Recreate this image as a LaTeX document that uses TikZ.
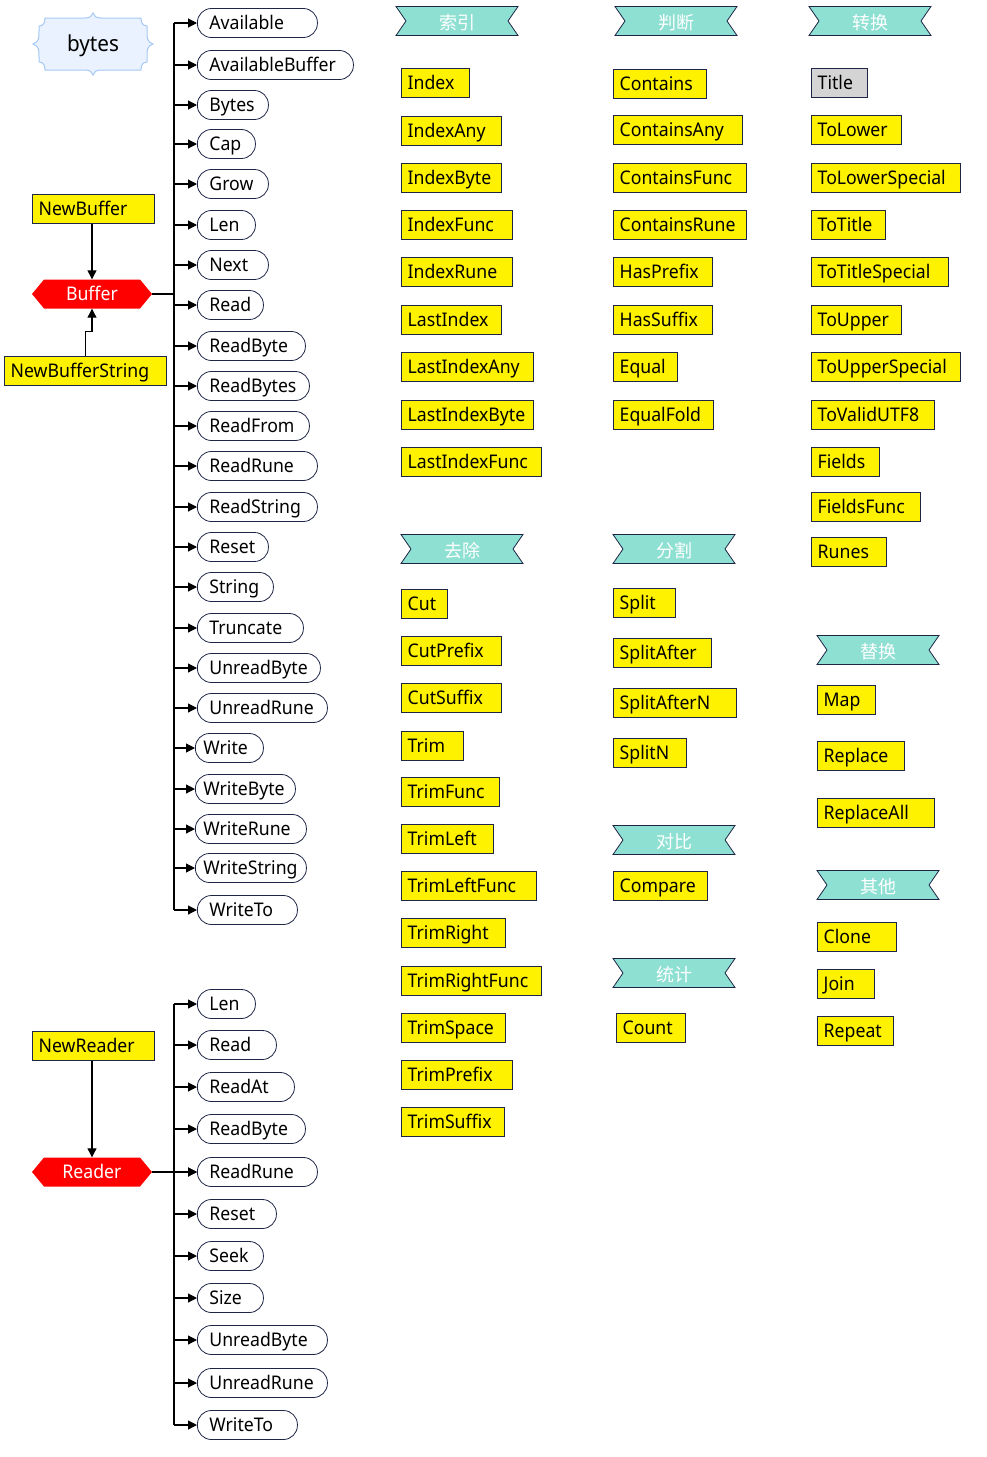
\documentclass[tikz,border=0pt]{standalone}
\usepackage{fontspec}
\setmainfont{Noto Sans}[FakeStretch=0.94]
\newfontfamily\cjk{Noto Sans CJK SC}
\usetikzlibrary{arrows.meta}

\definecolor{navy}{HTML}{1F2547}
\definecolor{ribbon}{HTML}{8EE0D2}
\definecolor{cloudfill}{HTML}{E9F2FE}
\definecolor{cloudline}{HTML}{A6C9F3}
\definecolor{titlegray}{HTML}{D4D4D4}

\newcommand\lbl{\fontsize{18.8}{21}\selectfont}

% rounded method label hanging off a type's bar
% #1 name, #2 left x, #3 y, #4 right x, #5 padding, #6 text, #7 bar x
\newcommand\pill[7]{%
  \pgfmathsetmacro\tw{#4-#2-2*#5}%
  \node[pill, inner xsep=#5pt, text width=\tw pt, anchor=west] (#1) at (#2,#3) {\mbox{#6}};
  \coordinate (#1-j) at (#7,#3);
  \draw[arr] (#1-j) -- (#1.west);
}
% plain function box
% [fill] #2 name, #3 left x, #4 y, #5 right x, #6 text
\newcommand\funcbox[6][yellow]{%
  \pgfmathsetmacro\tw{#5-#3-12}%
  \node[fbox, fill=#1, text width=\tw pt, anchor=west] (#2) at (#3,#4) {\mbox{#6}};
}
% category ribbon: #1 name, #2 cx, #3 cy, #4 text
\newcommand\ribbonlabel[4]{%
  \filldraw[fill=ribbon, draw=navy, line width=0.8pt, line join=miter]
    (#2-61,#3-14.5) -- (#2+61,#3-14.5) -- (#2+51,#3) -- (#2+61,#3+14.5)
    -- (#2-61,#3+14.5) -- (#2-51,#3) -- cycle;
  \node[ribtext] (#1) at (#2,#3+1.5) {#4};
}
% type hexagon: #1 name, #2 cx, #3 cy, #4 text
\newcommand\typehex[4]{%
  \fill[red] (#2-60,#3) -- (#2-48,#3-14.5) -- (#2+48,#3-14.5) -- (#2+60,#3)
    -- (#2+48,#3+14.5) -- (#2-48,#3+14.5) -- cycle;
  \node[hextext] (#1) at (#2,#3) {#4};
}

\begin{document}
\begin{tikzpicture}[x=1pt, y=-1pt,
  pill/.style={draw=navy, line width=0.8pt, rounded corners=14pt, fill=white,
    minimum height=29pt, inner ysep=0pt, align=left, font=\lbl,
    text height=14pt, text depth=2pt},
  fbox/.style={draw=navy, line width=1.4pt, minimum height=29pt, inner xsep=6pt,
    inner ysep=0pt, align=left, font=\lbl, text height=14pt, text depth=2pt},
  ribtext/.style={text=white, font=\cjk\fontsize{18}{20}\selectfont, inner sep=0pt},
  hextext/.style={text=white, font=\lbl, minimum width=120pt, minimum height=29pt,
    inner sep=0pt, text height=14pt, text depth=2pt},
  arr/.style={-{Triangle[length=9pt,width=9pt]}, line width=1.1pt, black},
  line/.style={line width=1.1pt, black},
]
\useasboundingbox (0,0) rectangle (986,1457);

% package name plaque
\filldraw[fill=cloudfill, draw=cloudline, line width=1pt]
  (33,44) .. controls (39,42) and (39,38) .. (39,31)
  -- (39,26) .. controls (43,26) and (45,23) .. (45,18)
  -- (85,18) .. controls (90,18) and (92,16) .. (93,13)
  .. controls (94,16) and (96,18) .. (101,18)
  -- (141,18) .. controls (141,23) and (143,26) .. (147,26)
  -- (147,31) .. controls (147,38) and (147,42) .. (153,44)
  .. controls (147,46) and (147,50) .. (147,57)
  -- (147,62) .. controls (143,62) and (141,65) .. (141,70)
  -- (101,70) .. controls (96,70) and (94,72) .. (93,75)
  .. controls (92,72) and (90,70) .. (85,70)
  -- (45,70) .. controls (45,65) and (43,62) .. (39,62)
  -- (39,57) .. controls (39,50) and (39,46) .. (33,44) -- cycle;
\node[font=\fontsize{22}{24}\selectfont] (bytes) at (93,46) {bytes};

% ---------- Buffer ----------
\typehex{Buffer}{92}{294}{Buffer}
\funcbox{NewBuffer}{32}{209}{154}{NewBuffer}
\funcbox{NewBufferString}{4}{371}{166}{NewBufferString}
\draw[arr] (NewBuffer.south -| Buffer.north) -- (Buffer.north);
\draw[arr] (NewBufferString.north) -- ++(0,-24) -| (Buffer.south);

\coordinate (bufTop) at (174,23);
\coordinate (bufBot) at (174,910);
\coordinate (bufJoin) at (174,294);
\draw[line] (bufTop) -- (bufBot);
\draw[line] (Buffer.east) -- (bufJoin);

\pill{b-Available}{197}{23}{317}{12}{Available}{174}
\pill{b-AvailableBuffer}{197}{65}{353}{12}{AvailableBuffer}{174}
\pill{b-Bytes}{197}{105}{268}{12}{Bytes}{174}
\pill{b-Cap}{197}{144}{255}{12}{Cap}{174}
\pill{b-Grow}{197}{184}{268}{12}{Grow}{174}
\pill{b-Len}{197}{225}{255}{12}{Len}{174}
\pill{b-Next}{197}{265}{268}{12}{Next}{174}
\pill{b-Read}{197}{305}{263}{12}{Read}{174}
\pill{b-ReadByte}{197}{346}{305}{12}{ReadByte}{174}
\pill{b-ReadBytes}{197}{386}{309}{12}{ReadBytes}{174}
\pill{b-ReadFrom}{197}{426}{309}{12}{ReadFrom}{174}
\pill{b-ReadRune}{197}{466}{317}{12}{ReadRune}{174}
\pill{b-ReadString}{197}{507}{317}{12}{ReadString}{174}
\pill{b-Reset}{197}{547}{268}{12}{Reset}{174}
\pill{b-String}{197}{587}{273}{12}{String}{174}
\pill{b-Truncate}{197}{628}{303}{12}{Truncate}{174}
\pill{b-UnreadByte}{197}{668}{320}{12}{UnreadByte}{174}
\pill{b-UnreadRune}{197}{708}{327}{12}{UnreadRune}{174}
\pill{b-Write}{195}{748}{263}{8}{Write}{174}
\pill{b-WriteByte}{195}{789}{295}{8}{WriteByte}{174}
\pill{b-WriteRune}{195}{829}{306}{8}{WriteRune}{174}
\pill{b-WriteString}{195}{868}{306}{8}{WriteString}{174}
\pill{b-WriteTo}{197}{910}{297}{12}{WriteTo}{174}

% ---------- Reader ----------
\typehex{Reader}{92}{1172}{Reader}
\funcbox{NewReader}{32}{1046}{154}{NewReader}
\draw[arr] (NewReader.south -| Reader.north) -- (Reader.north);

\coordinate (rdTop) at (174,1004);
\coordinate (rdBot) at (174,1425);
\draw[line] (rdTop) -- (rdBot);

\pill{r-Len}{197}{1004}{255}{12}{Len}{174}
\pill{r-Read}{197}{1045}{276}{12}{Read}{174}
\pill{r-ReadAt}{197}{1087}{294}{12}{ReadAt}{174}
\pill{r-ReadByte}{197}{1129}{305}{12}{ReadByte}{174}
\pill{r-ReadRune}{197}{1172}{317}{12}{ReadRune}{174}
\pill{r-Reset}{197}{1214}{276}{12}{Reset}{174}
\pill{r-Seek}{197}{1256}{263}{12}{Seek}{174}
\pill{r-Size}{197}{1298}{263}{12}{Size}{174}
\pill{r-UnreadByte}{197}{1340}{327}{12}{UnreadByte}{174}
\pill{r-UnreadRune}{197}{1383}{327}{12}{UnreadRune}{174}
\pill{r-WriteTo}{197}{1425}{297}{12}{WriteTo}{174}
\draw[arr] (Reader.east) -- (r-ReadRune.west);

% ---------- package functions by category ----------
\ribbonlabel{cat-index}{457}{21}{索引}
\funcbox{f-Index}{401}{83}{469}{Index}
\funcbox{f-IndexAny}{401}{131}{501}{IndexAny}
\funcbox{f-IndexByte}{401}{178}{501}{IndexByte}
\funcbox{f-IndexFunc}{401}{225}{512}{IndexFunc}
\funcbox{f-IndexRune}{401}{272}{512}{IndexRune}
\funcbox{f-LastIndex}{401}{320}{501}{LastIndex}
\funcbox{f-LastIndexAny}{401}{367}{533}{LastIndexAny}
\funcbox{f-LastIndexByte}{401}{415}{533}{LastIndexByte}
\funcbox{f-LastIndexFunc}{401}{462}{541}{LastIndexFunc}

\ribbonlabel{cat-judge}{676}{21}{判断}
\funcbox{f-Contains}{613}{84}{706}{Contains}
\funcbox{f-ContainsAny}{613}{130}{742}{ContainsAny}
\funcbox{f-ContainsFunc}{613}{178}{746}{ContainsFunc}
\funcbox{f-ContainsRune}{613}{225}{746}{ContainsRune}
\funcbox{f-HasPrefix}{613}{272}{712}{HasPrefix}
\funcbox{f-HasSuffix}{613}{320}{712}{HasSuffix}
\funcbox{f-Equal}{613}{367}{677}{Equal}
\funcbox{f-EqualFold}{613}{415}{713}{EqualFold}

\ribbonlabel{cat-convert}{870}{21}{转换}
\funcbox[titlegray]{f-Title}{811}{83}{867}{Title}
\funcbox{f-ToLower}{811}{130}{901}{ToLower}
\funcbox{f-ToLowerSpecial}{811}{178}{960}{ToLowerSpecial}
\funcbox{f-ToTitle}{811}{225}{885}{ToTitle}
\funcbox{f-ToTitleSpecial}{811}{272}{948}{ToTitleSpecial}
\funcbox{f-ToUpper}{811}{320}{901}{ToUpper}
\funcbox{f-ToUpperSpecial}{811}{367}{960}{ToUpperSpecial}
\funcbox{f-ToValidUTF8}{811}{415}{934}{ToValidUTF8}
\funcbox{f-Fields}{811}{462}{879}{Fields}
\funcbox{f-FieldsFunc}{811}{507}{920}{FieldsFunc}
\funcbox{f-Runes}{811}{552}{886}{Runes}

\ribbonlabel{cat-trim}{462}{549}{去除}
\funcbox{f-Cut}{401}{604}{447}{Cut}
\funcbox{f-CutPrefix}{401}{651}{501}{CutPrefix}
\funcbox{f-CutSuffix}{401}{698}{501}{CutSuffix}
\funcbox{f-Trim}{401}{746}{463}{Trim}
\funcbox{f-TrimFunc}{401}{792}{499}{TrimFunc}
\funcbox{f-TrimLeft}{401}{839}{493}{TrimLeft}
\funcbox{f-TrimLeftFunc}{401}{886}{536}{TrimLeftFunc}
\funcbox{f-TrimRight}{401}{933}{505}{TrimRight}
\funcbox{f-TrimRightFunc}{401}{981}{541}{TrimRightFunc}
\funcbox{f-TrimSpace}{401}{1028}{505}{TrimSpace}
\funcbox{f-TrimPrefix}{401}{1075}{512}{TrimPrefix}
\funcbox{f-TrimSuffix}{401}{1122}{504}{TrimSuffix}

\ribbonlabel{cat-split}{674}{549}{分割}
\funcbox{f-Split}{613}{603}{675}{Split}
\funcbox{f-SplitAfter}{613}{653}{711}{SplitAfter}
\funcbox{f-SplitAfterN}{613}{703}{736}{SplitAfterN}
\funcbox{f-SplitN}{613}{753}{686}{SplitN}

\ribbonlabel{cat-compare}{674}{840}{对比}
\funcbox{f-Compare}{613}{886}{707}{Compare}

\ribbonlabel{cat-count}{674}{973}{统计}
\funcbox{f-Count}{616}{1028}{685}{Count}

\ribbonlabel{cat-replace}{878}{650}{替换}
\funcbox{f-Map}{817}{700}{875}{Map}
\funcbox{f-Replace}{817}{756}{904}{Replace}
\funcbox{f-ReplaceAll}{817}{813}{934}{ReplaceAll}

\ribbonlabel{cat-other}{878}{885}{其他}
\funcbox{f-Clone}{817}{937}{896}{Clone}
\funcbox{f-Join}{817}{984}{874}{Join}
\funcbox{f-Repeat}{817}{1031}{893}{Repeat}

\end{tikzpicture}
\end{document}
